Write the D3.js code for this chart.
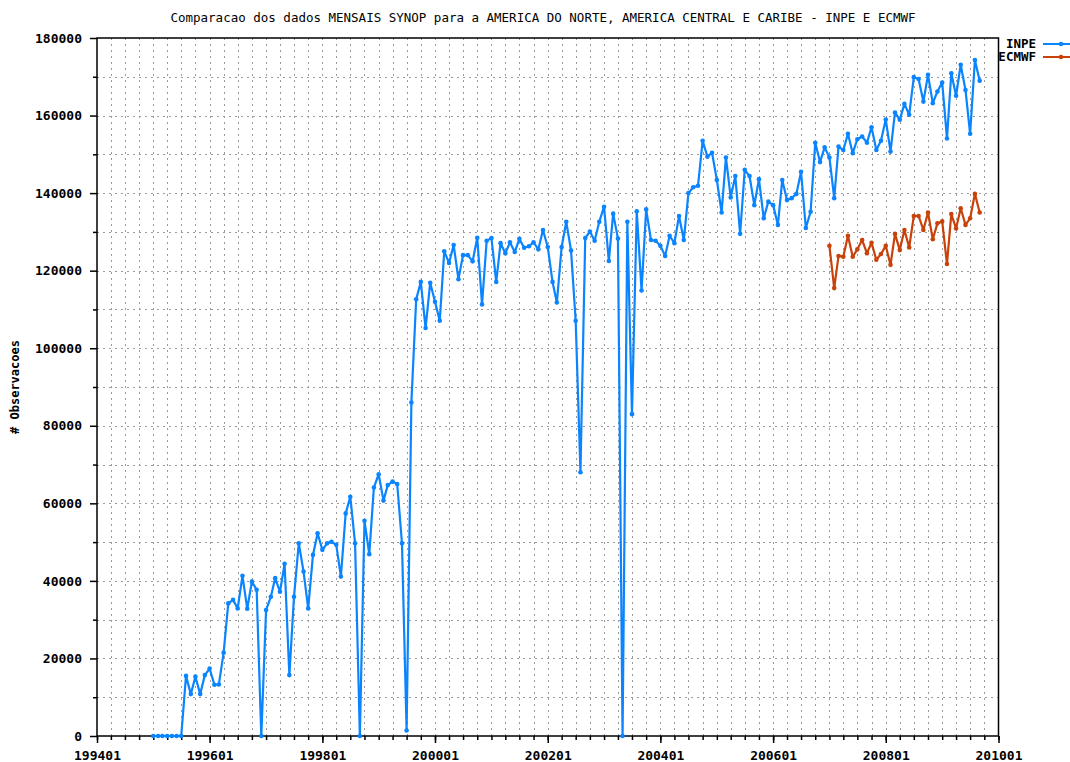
<!DOCTYPE html>
<html>
<head>
<meta charset="utf-8">
<script src="https://cdn.jsdelivr.net/npm/d3@7"></script>
<style>
	body { margin: 0; background: #fff; }
	svg { display: block; }
	text { font-family: "DejaVu Sans Mono", monospace; fill: #000; }
</style>
</head>
<body>
<svg class="chart" width="1070" height="762"></svg>
<script>
// chart data
var title = "Comparacao dos dados MENSAIS SYNOP para a AMERICA DO NORTE, AMERICA CENTRAL E CARIBE - INPE E ECMWF";
var yLabel = "# Observacoes";
var seriesNames = ["INPE", "ECMWF"];
var seriesColors = ["#0a84ff", "#c8420a"];

// INPE: monthly values from 199501
var inpeStart = "199501";
var inpeValues = [
	0, 0, 0, 0, 0, 0, 0, 15500, 10800, 15300, 10800, 15700,
	17400, 13200, 13300, 21500, 34200, 35100, 32900, 41300, 32800, 39800, 37700, 0,
	32500, 35900, 40700, 37200, 44400, 15700, 35900, 49700, 42400, 32900, 46700, 52300,
	48000, 49700, 50100, 49300, 41100, 57400, 61700, 49700, 0, 55500, 46900, 64100,
	67500, 60700, 64700, 65600, 65000, 49700, 1400, 86000, 112600, 117100, 105200, 116900,
	112000, 107100, 125000, 122000, 126600, 117800, 124000, 124000, 122400, 128500, 111300, 127700,
	128400, 117100, 127100, 124500, 127300, 124800, 128200, 125900, 126300, 127300, 125500, 130500,
	126100, 117100, 111800, 126100, 132600, 125200, 107100, 68000, 128400, 130100, 127700, 132600,
	136500, 122500, 134700, 128300, 0, 132600, 83000, 135300, 114900, 135800, 127900, 127700,
	126400, 123800, 129000, 127100, 134100, 127900, 140000, 141500, 141900, 153500, 149400, 150400,
	143400, 135000, 149200, 138900, 144400, 129500, 146000, 144400, 136900, 143600, 133500, 137800,
	136900, 131800, 143400, 138200, 138700, 139800, 145500, 131000, 135200, 153000, 148000, 151800,
	149200, 138700, 152000, 151100, 155300, 150300, 153900, 154600, 153000, 157000, 151100, 153500,
	159000, 150700, 160800, 158900, 163000, 160200, 169900, 169400, 163600, 170500, 163200, 166200,
	168500, 154100, 170900, 165100, 173100, 166600, 155300, 174300, 169000
];

// ECMWF: monthly values from 200701
var ecmwfStart = "200701";
var ecmwfValues = [
	126400, 115500, 123800, 123600, 129000, 123600, 125500, 127900, 124500, 127200, 122800, 124300,
	126400, 121500, 129500, 125300, 130500, 126000, 134100, 134100, 130500, 135000, 128100, 132200,
	132700, 121700, 134600, 130900, 136100, 131800, 133500, 139800, 135000
];

// axis range
var xDomain = ["199401", "201001"];
var yMax = 180000;

var parseMonth = d3.timeParse("%Y%m");

function toSeries(start, values) {
	var t0 = parseMonth(start);
	return values.map(function(v, i) {
		return {date: d3.timeMonth.offset(t0, i), value: v};
	});
}

var series = [toSeries(inpeStart, inpeValues), toSeries(ecmwfStart, ecmwfValues)];

// plot box
var plotLeft = 97, plotRight = 998.5, plotTop = 38, plotBottom = 736;

var x = d3.scaleTime()
	.domain(xDomain.map(parseMonth))
	.range([plotLeft, plotRight]);

var y = d3.scaleLinear()
	.domain([0, yMax])
	.range([plotBottom, plotTop]);

var svg = d3.select("svg.chart");

// dotted grid
var grid = svg.append("g").attr("class", "grid")
	.attr("stroke", "#9a9a9a")
	.attr("stroke-width", 1)
	.attr("stroke-dasharray", "2,4");

var xMinor = x.ticks(d3.timeMonth.every(3));
grid.selectAll("line.v")
	.data(xMinor.filter(function(d) { return x(d) > plotLeft + 1 && x(d) < plotRight - 1; }))
	.enter().append("line")
	.attr("class", "v")
	.attr("x1", function(d) { return Math.round(x(d)) + 0.5; })
	.attr("x2", function(d) { return Math.round(x(d)) + 0.5; })
	.attr("y1", plotTop)
	.attr("y2", plotBottom);

var yMinor = d3.range(10000, yMax, 10000);
grid.selectAll("line.h")
	.data(yMinor)
	.enter().append("line")
	.attr("class", "h")
	.attr("x1", plotLeft)
	.attr("x2", plotRight)
	.attr("y1", function(d) { return Math.round(y(d)) + 0.5; })
	.attr("y2", function(d) { return Math.round(y(d)) + 0.5; });

// x axis, major and minor ticks
svg.append("g")
	.attr("transform", "translate(0," + plotBottom + ")")
	.call(d3.axisBottom(x)
		.ticks(d3.timeYear.every(2))
		.tickFormat(d3.timeFormat("%Y%m"))
		.tickSize(7)
		.tickPadding(8));
svg.append("g")
	.attr("transform", "translate(0," + plotBottom + ")")
	.call(d3.axisBottom(x)
		.ticks(d3.timeMonth.every(3))
		.tickFormat("")
		.tickSize(4));

// y axis, major and minor ticks
svg.append("g")
	.attr("transform", "translate(" + plotLeft + ",0)")
	.call(d3.axisLeft(y)
		.tickValues(d3.range(0, yMax + 1, 20000))
		.tickFormat(d3.format("d"))
		.tickSize(7)
		.tickPadding(8));
svg.append("g")
	.attr("transform", "translate(" + plotLeft + ",0)")
	.call(d3.axisLeft(y)
		.tickValues(d3.range(10000, yMax, 20000))
		.tickFormat("")
		.tickSize(4));

svg.selectAll(".domain").remove();
svg.selectAll(".tick line").attr("stroke", "#000").attr("stroke-width", 1.5);
svg.selectAll(".tick text")
	.style("font-family", "'DejaVu Sans Mono', monospace")
	.style("font-size", "13px")
	.style("font-weight", "bold")
	.attr("fill", "#000");

// frame
svg.append("rect")
	.attr("x", plotLeft)
	.attr("y", plotTop)
	.attr("width", plotRight - plotLeft)
	.attr("height", plotBottom - plotTop)
	.attr("fill", "none")
	.attr("stroke", "#000")
	.attr("stroke-width", 1.5);

// lines and points
var line = d3.line()
	.x(function(d) { return x(d.date); })
	.y(function(d) { return y(d.value); });

series.forEach(function(s, i) {
	svg.append("path")
		.datum(s)
		.attr("d", line)
		.attr("fill", "none")
		.attr("stroke", seriesColors[i])
		.attr("stroke-width", 2.2)
		.attr("stroke-linejoin", "round");
	svg.append("g").selectAll("circle")
		.data(s)
		.enter().append("circle")
		.attr("cx", function(d) { return x(d.date); })
		.attr("cy", function(d) { return y(d.value); })
		.attr("r", 2.3)
		.attr("fill", seriesColors[i]);
});

// title
svg.append("text")
	.attr("x", 543)
	.attr("y", 22)
	.attr("text-anchor", "middle")
	.style("font-size", "12.5px")
	.text(title);

// y label
svg.append("text")
	.attr("transform", "translate(19," + ((plotTop + plotBottom) / 2) + ") rotate(-90)")
	.attr("text-anchor", "middle")
	.style("font-size", "12px")
	.style("font-weight", "bold")
	.text(yLabel);

// legend
var legend = svg.append("g").selectAll("g")
	.data(seriesNames)
	.enter().append("g")
	.attr("transform", function(d, i) { return "translate(0," + (44 + i * 13) + ")"; });
legend.append("text")
	.attr("x", 1036)
	.attr("dy", "0.35em")
	.attr("text-anchor", "end")
	.style("font-size", "12.5px")
	.style("font-weight", "bold")
	.text(function(d) { return d; });
legend.append("line")
	.attr("x1", 1043)
	.attr("x2", 1078)
	.attr("stroke", function(d, i) { return seriesColors[i]; })
	.attr("stroke-width", 2.2);
legend.append("circle")
	.attr("cx", 1061)
	.attr("r", 2.3)
	.attr("fill", function(d, i) { return seriesColors[i]; });
</script>
</body>
</html>
